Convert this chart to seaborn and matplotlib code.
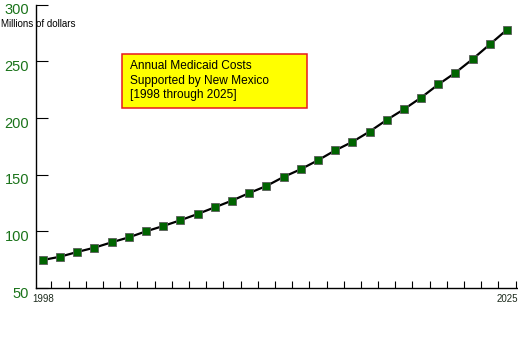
import numpy as np
import pandas as pd
import matplotlib
matplotlib.use("Agg")
import matplotlib.pyplot as plt
import matplotlib.transforms as mtransforms
from matplotlib.patches import Rectangle
import seaborn as sns

# values (millions of dollars)
years = list(range(1998, 2026))
costs = [74.7, 77.6, 81.8, 85.6, 90.3, 94.7, 100.0, 104.7, 109.8, 115.3,
         121.2, 127.1, 133.8, 140.0, 148.0, 154.8, 162.7, 171.4, 178.9, 188.0,
         198.3, 207.7, 218.0, 229.6, 240.0, 252.0, 265.0, 278.0]
y_ticks = [50, 100, 150, 200, 250, 300]
x_labels = [1998, 2025]
title_lines = ["Annual Medicaid Costs", "Supported by New Mexico", "[1998 through 2025]"]

sns.set_theme(style="white")
plt.rcParams["font.family"] = ["Liberation Sans", "DejaVu Sans"]

df = pd.DataFrame({"year": years, "cost": costs})

W, H = 518, 361
fig = plt.figure(figsize=(W / 100, H / 100), dpi=100, facecolor="white")
ax = fig.add_axes([36 / W, (H - 288) / H, (517 - 36) / W, (288 - 4.7) / H])

sns.lineplot(data=df, x="year", y="cost", ax=ax, color="black", linewidth=1.6,
             marker="s", markersize=5.2, markerfacecolor="#006400",
             markeredgecolor="#5a5a5a", markeredgewidth=0.6, clip_on=False)

ax.set_xlim(1997.6, 2025.58)
ax.set_ylim(50, 300)
ax.set_xlabel("")
ax.set_ylabel("")

for s in ["top", "right"]:
    ax.spines[s].set_visible(False)
for s in ["left", "bottom"]:
    ax.spines[s].set_color("black")
    ax.spines[s].set_linewidth(1.0)

# y axis ticks: inward marks, green labels sitting slightly low
ax.set_yticks(y_ticks)
ax.set_yticklabels([str(v) for v in y_ticks])
ax.tick_params(axis="y", direction="in", length=8.6, width=0.8, color="black",
               labelsize=10.5, labelcolor="#1a731a", pad=5, left=True)
off = mtransforms.ScaledTranslation(0, -0.04, fig.dpi_scale_trans)
for lab in ax.get_yticklabels():
    lab.set_transform(lab.get_transform() + off)

# x axis: labels only at the ends, small marks at every half year
ax.set_xticks(x_labels)
ax.set_xticklabels([str(v) for v in x_labels])
ax.set_xticks(np.arange(1998.5, 2026, 1.0), minor=True)
ax.tick_params(axis="x", which="major", length=0, labelsize=7, labelcolor="#1c2a1c", pad=4)
ax.tick_params(axis="x", which="minor", direction="in", length=5, width=0.8,
               color="black", bottom=True)
ax.grid(False)

fig.text(1 / W, 1 - 24 / H, "Millions of dollars", fontsize=7, color="black",
         ha="left", va="center")

box = Rectangle((122 / W, (H - 108) / H), 185 / W, 54 / H, transform=fig.transFigure,
                facecolor="#ffff00", edgecolor="#e8191e", linewidth=1.1, zorder=5)
fig.patches.append(box)
fig.text(130 / W, 1 - 60 / H, "\n".join(title_lines), fontsize=8.6, color="black",
         ha="left", va="top", linespacing=1.3, zorder=6)

fig.savefig("out.png", dpi=100, facecolor="white")
